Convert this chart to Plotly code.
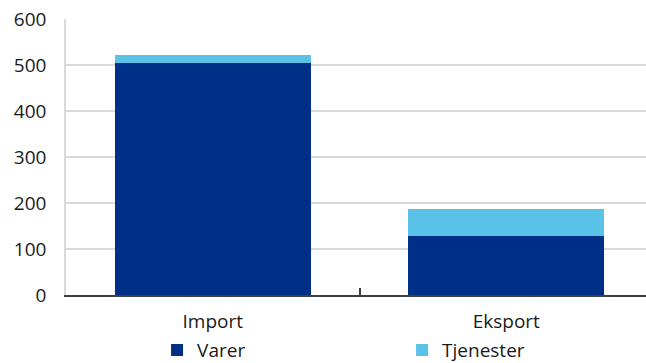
import plotly.graph_objects as go

categories = ["Import", "Eksport"]
varer = [505, 129]
tjenester = [17, 57]
y_ticks = [0, 100, 200, 300, 400, 500, 600]

DARK = "#002F87"
LIGHT = "#5BC2E7"
FONT = "Open Sans"

fig = go.Figure()
fig.add_trace(go.Bar(x=categories, y=varer, name="Varer", marker_color=DARK,
                     marker_line_width=0))
fig.add_trace(go.Bar(x=categories, y=tjenester, name="Tjenester", marker_color=LIGHT,
                     marker_line_width=0))

fig.update_layout(
    width=646, height=363,
    barmode="stack",
    bargap=0.333,
    plot_bgcolor="white",
    paper_bgcolor="white",
    margin=dict(l=66, r=0, t=19, b=68, autoexpand=False),
    font=dict(family=FONT, size=19, color="#1a1a1a"),
    showlegend=True,
    legend=dict(orientation="h", x=0.157, xanchor="left", y=-0.200, yanchor="middle",
                bgcolor="rgba(0,0,0,0)",
                entrywidth=200, entrywidthmode="pixels",
                font=dict(size=19), itemclick=False, traceorder="normal"),
    xaxis=dict(range=[-0.5, 1.476], showgrid=False, showline=True,
               linecolor="#404040", linewidth=2, ticks="inside",
               tickson="boundaries", ticklen=7, tickcolor="#404040", tickwidth=1.5,
               ticklabelstandoff=8,
               tickfont=dict(size=19), fixedrange=True, automargin=False),
    yaxis=dict(range=[0, 600], tickvals=y_ticks, showgrid=True,
               gridcolor="#d9d9d9", gridwidth=1.5, showline=True,
               linecolor="#d9d9d9", linewidth=1.5, zeroline=False,
               ticks="", ticklabelstandoff=14, tickfont=dict(size=19),
               automargin=False),
)

fig.write_html("out.html", config={"displayModeBar": False},
               post_script="document.body.style.margin='0';document.body.style.overflow='hidden';")
